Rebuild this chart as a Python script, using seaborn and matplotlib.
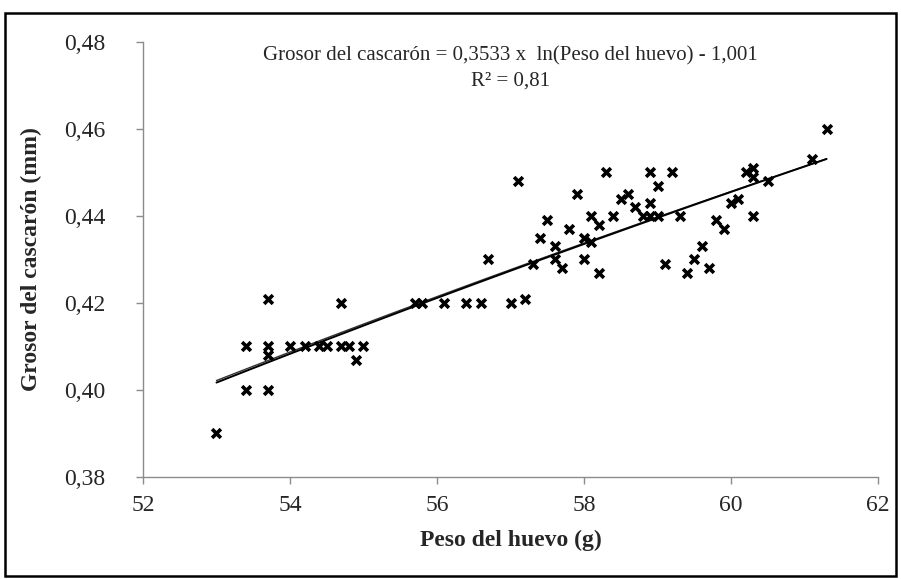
# Grosor del cascarón vs peso del huevo – diagrama de dispersión con tendencia logarítmica

import numpy as np
import pandas as pd
import matplotlib.pyplot as plt
import seaborn as sns
from matplotlib.patches import Rectangle

# Datos
peso = [53.0, 53.4, 53.4, 53.7, 53.7, 53.7, 53.7,
        54.0, 54.2, 54.4, 54.5, 54.7, 54.7, 54.8, 54.9, 55.0,
        55.7, 55.8, 56.1, 56.4, 56.6, 57.0, 56.7, 57.1, 57.2,
        57.3, 57.4, 57.5, 57.6, 57.6, 57.7, 57.8, 57.9, 58.0, 58.0,
        58.1, 58.1, 58.2, 58.2, 58.3, 58.4, 58.5, 58.6, 58.7,
        58.8, 58.9, 59.0, 58.9, 58.9, 59.0, 59.2, 59.3, 59.1,
        59.4, 59.5, 59.6, 59.7, 59.8, 59.9, 60.0, 60.1,
        60.2, 60.3, 60.3, 60.3, 60.5, 61.1, 61.3]
grosor = [0.390, 0.410, 0.400, 0.421, 0.410, 0.408, 0.400,
          0.410, 0.410, 0.410, 0.410, 0.420, 0.410, 0.410, 0.407, 0.410,
          0.420, 0.420, 0.420, 0.420, 0.420, 0.420, 0.430, 0.448, 0.421,
          0.429, 0.435, 0.439, 0.433, 0.430, 0.428, 0.437, 0.445, 0.435, 0.430,
          0.440, 0.434, 0.438, 0.427, 0.450, 0.440, 0.444, 0.445, 0.442,
          0.440, 0.440, 0.440, 0.443, 0.450, 0.447, 0.450, 0.440, 0.429,
          0.427, 0.430, 0.433, 0.428, 0.439, 0.437, 0.443, 0.444,
          0.450, 0.451, 0.449, 0.440, 0.448, 0.453, 0.460]

# Ecuación indicada en el gráfico
coef_a = 0.3533
coef_b = -1.001

x_ticks = [52, 54, 56, 58, 60, 62]
y_ticks = [0.38, 0.40, 0.42, 0.44, 0.46, 0.48]

df = pd.DataFrame({'peso': peso, 'grosor': grosor})

sns.set_style('white')
plt.rcParams['font.family'] = ['Liberation Serif', 'DejaVu Serif']

fig = plt.figure(figsize=(9.01, 5.79), dpi=100)
ax = fig.add_axes([0.1587, 0.1762, 0.8158, 0.7513])

# Marco exterior
fig.patches.append(Rectangle((0.006, 0.006), 0.989, 0.972, transform=fig.transFigure,
                             fill=False, edgecolor='black', linewidth=1.8))

sns.scatterplot(data=df, x='peso', y='grosor', marker='x', color='black',
                s=40, linewidth=2.6, ax=ax, zorder=3)

# Línea de tendencia logarítmica ajustada a los datos
sns.regplot(data=df, x='peso', y='grosor', logx=True, scatter=False, ci=None,
            line_kws={'color': '#333333', 'linewidth': 1.0}, ax=ax)

# Línea de la ecuación indicada
xs = np.linspace(min(peso), max(peso), 100)
ax.plot(xs, coef_a * np.log(xs) + coef_b, color='black', linewidth=1.4)

ax.set_xlim(52, 62)
ax.set_ylim(0.38, 0.48)
ax.set_xticks(x_ticks)
ax.set_yticks(y_ticks)
ax.set_xticklabels([str(t) for t in x_ticks], fontsize=17)
ax.set_yticklabels([f'{t:.2f}'.replace('.', ',') for t in y_ticks], fontsize=17)

for s in ['top', 'right']:
    ax.spines[s].set_visible(False)
for s in ['left', 'bottom']:
    ax.spines[s].set_color('#8c8c8c')
    ax.spines[s].set_linewidth(1.0)
ax.tick_params(axis='y', direction='out', length=5, width=1.0, color='#8c8c8c',
               left=True, pad=22)
ax.tick_params(axis='x', direction='out', length=5, width=1.0, color='#8c8c8c',
               bottom=True, pad=8)

ax.set_xlabel('Peso del huevo (g)', fontsize=17, fontweight='bold', labelpad=10)
ax.set_ylabel('Grosor del cascarón (mm)', fontsize=17, fontweight='bold', labelpad=16)

ax.text(0.5, 0.968, 'Grosor del cascarón = 0,3533 x  ln(Peso del huevo) - 1,001',
        transform=ax.transAxes, ha='center', va='center', fontsize=15)
ax.text(0.5, 0.91, 'R² = 0,81', transform=ax.transAxes, ha='center', va='center',
        fontsize=15)

plt.savefig('out.png', dpi=100)
